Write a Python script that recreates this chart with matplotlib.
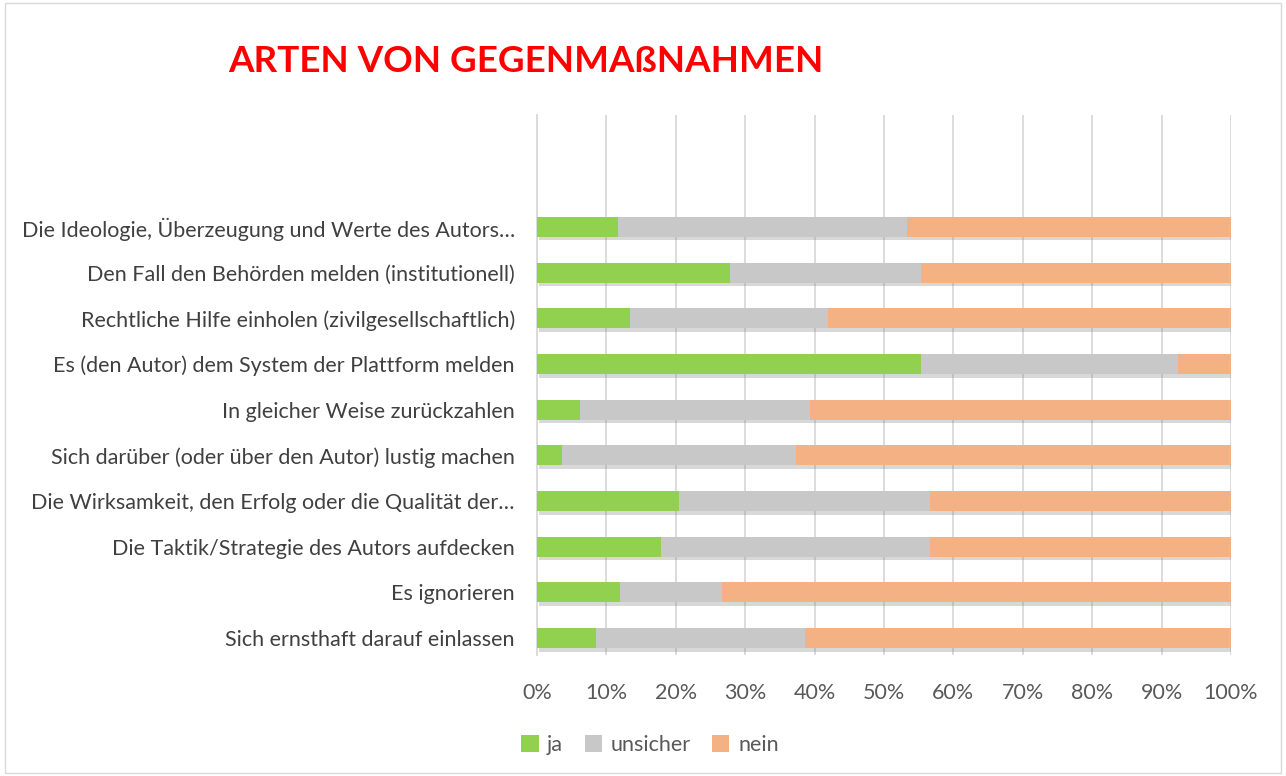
import matplotlib.pyplot as plt
import matplotlib.patheffects as pe
from matplotlib.patches import Rectangle, Patch

plt.rcParams['font.family'] = ['Lato', 'DejaVu Sans']

categories = [
    "Die Ideologie, Überzeugung und Werte des Autors…",
    "Den Fall den Behörden melden (institutionell)",
    "Rechtliche Hilfe einholen (zivilgesellschaftlich)",
    "Es (den Autor) dem System der Plattform melden",
    "In gleicher Weise zurückzahlen",
    "Sich darüber (oder über den Autor) lustig machen",
    "Die Wirksamkeit, den Erfolg oder die Qualität der…",
    "Die Taktik/Strategie des Autors aufdecken",
    "Es ignorieren",
    "Sich ernsthaft darauf einlassen",
]
ja = [11.6, 27.8, 13.4, 55.4, 6.2, 3.6, 20.5, 17.8, 11.9, 8.5]
unsicher = [41.7, 27.6, 28.5, 36.9, 33.1, 33.7, 36.2, 38.8, 14.8, 30.1]
nein = [100 - a - b for a, b in zip(ja, unsicher)]

colors = ["#92d050", "#c8c8c8", "#f4b183"]
series = [("ja", ja), ("unsicher", unsicher), ("nein", nein)]

fig = plt.figure(figsize=(12.86, 7.76), dpi=100)
ax = fig.add_axes([537 / 1286, 1 - 655 / 776, (1231 - 537) / 1286, (655 - 115) / 776])

ypos = list(range(len(categories) - 1, -1, -1))
left = [0] * len(categories)
shadow = [pe.SimplePatchShadow(offset=(1.5, -2.5), alpha=0.3, shadow_rgbFace="#808080"), pe.Normal()]
for i, (name, vals) in enumerate(series):
    bars = ax.barh(ypos, vals, left=left, height=0.44, color=colors[i], zorder=3)
    for b in bars:
        b.set_path_effects(shadow)
    left = [l + v for l, v in zip(left, vals)]

ax.set_xlim(0, 100)
ax.set_ylim(-0.37, 11.45)
ax.set_xticks(range(0, 101, 10))
ax.set_xticklabels([f"{x}%" for x in range(0, 101, 10)], fontsize=15.5, color="#595959")
ax.set_yticks(ypos)
ax.set_yticklabels(categories, fontsize=15.5, color="#404040")
ax.tick_params(axis="y", length=0, pad=16)
ax.tick_params(axis="x", length=0, pad=20)
ax.grid(axis="x", color="#d9d9d9", linewidth=1.3, zorder=0)
for s in ["top", "right", "bottom"]:
    ax.spines[s].set_visible(False)
ax.spines["left"].set_color("#d9d9d9")
ax.spines["left"].set_linewidth(1.3)

fig.text(228 / 1286, 1 - 62 / 776, "ARTEN VON GEGENMAßNAHMEN", fontsize=26.5, fontweight="bold",
         color="#ff0000", va="center", ha="left")

handles = [Patch(facecolor=c, label=n) for c, (n, _) in zip(colors, series)]
leg = fig.legend(handles=handles, loc="center", bbox_to_anchor=(650 / 1286, 1 - 745 / 776), ncol=3,
                 frameon=False, fontsize=15.5, handlelength=0.8, handleheight=0.8,
                 handletextpad=0.4, columnspacing=1.0)
for t in leg.get_texts():
    t.set_color("#595959")

fig.patches.append(Rectangle((0.004, 0.004), 0.992, 0.992, transform=fig.transFigure,
                             fill=False, edgecolor="#d9d9d9", linewidth=1))

fig.savefig("out.png", dpi=100)
